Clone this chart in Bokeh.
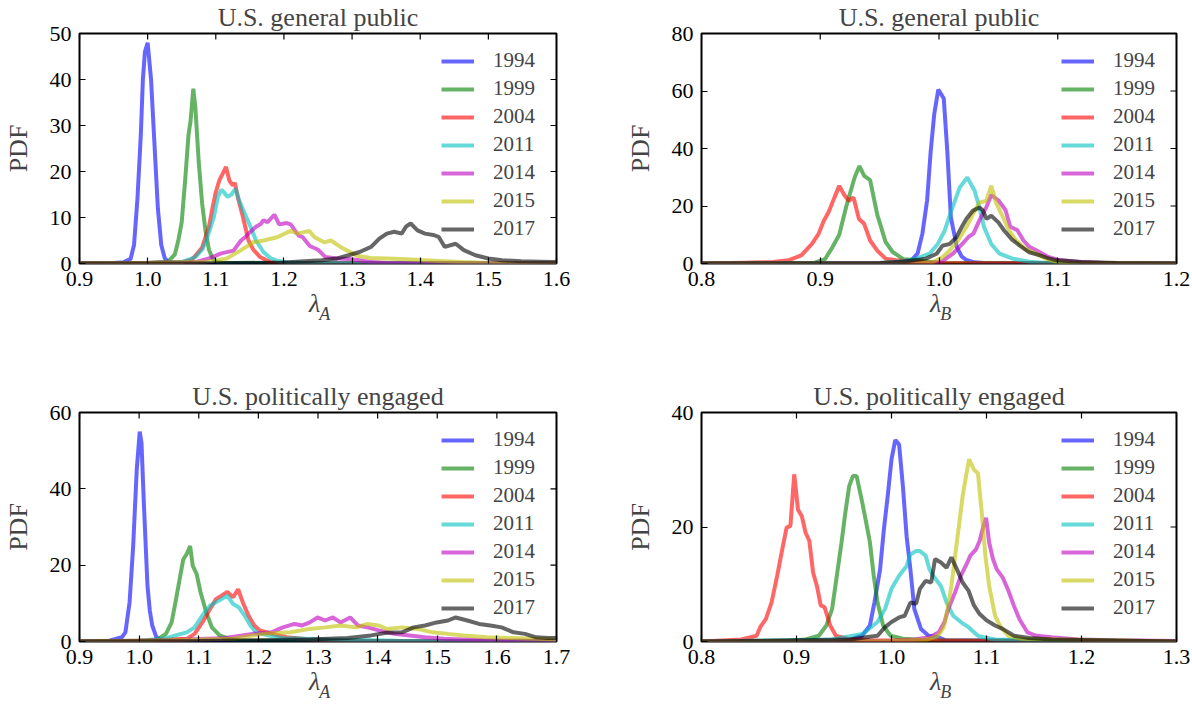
from bokeh.plotting import figure
from bokeh.models import (Range1d, FixedTicker, PrintfTickFormatter,
                          Legend, LegendItem, LinearAxis)
from bokeh.layouts import row, column
from bokeh.embed import file_html
from bokeh.resources import INLINE

YEARS = ["1994", "1999", "2004", "2011", "2014", "2015", "2017"]
COLORS = ["#0000ff", "#008000", "#ff0000", "#00bfbf", "#bf00bf", "#bfbf00", "#000000"]

# ---------------- U.S. general public, lambda_A ----------------
gpA_x_1994 = [0.90, 0.95, 0.965, 0.975, 0.98, 0.985, 0.99, 0.993, 0.996, 1.000, 1.005, 1.010, 1.015, 1.020, 1.025, 1.030, 1.04, 1.60]
gpA_y_1994 = [0.0, 0.1, 0.3, 1.0, 4.0, 14.0, 28.0, 40.0, 46.0, 48.0, 40.0, 26.0, 12.0, 4.0, 1.2, 0.3, 0.1, 0.0]
gpA_x_1999 = [0.90, 1.00, 1.03, 1.04, 1.045, 1.05, 1.055, 1.06, 1.063, 1.067, 1.07, 1.075, 1.08, 1.085, 1.09, 1.095, 1.10, 1.11, 1.60]
gpA_y_1999 = [0.0, 0.1, 0.4, 2.0, 5.0, 9.0, 18.0, 28.0, 31.0, 38.0, 34.0, 22.0, 13.0, 7.0, 3.0, 1.2, 0.4, 0.1, 0.0]
gpA_x_2004 = [0.90, 1.00, 1.05, 1.065, 1.08, 1.09, 1.095, 1.10, 1.105, 1.11, 1.115, 1.12, 1.125, 1.128, 1.133, 1.14, 1.148, 1.155, 1.165, 1.18, 1.19, 1.60]
gpA_y_2004 = [0.0, 0.1, 0.3, 0.8, 3.5, 8.0, 12.0, 15.5, 18.0, 19.5, 21.0, 18.0, 17.0, 17.5, 14.0, 10.0, 5.0, 3.0, 1.4, 0.3, 0.1, 0.0]
gpA_x_2011 = [0.90, 1.00, 1.05, 1.07, 1.08, 1.086, 1.097, 1.103, 1.108, 1.112, 1.117, 1.123, 1.129, 1.134, 1.142, 1.151, 1.159, 1.17, 1.18, 1.19, 1.205, 1.23, 1.60]
gpA_y_2011 = [0.0, 0.1, 0.3, 1.4, 3.0, 5.0, 10.0, 14.5, 16.0, 15.5, 14.5, 15.0, 16.3, 13.8, 11.0, 8.0, 5.0, 2.5, 1.2, 0.6, 0.2, 0.1, 0.0]
gpA_x_2014 = [0.90, 1.00, 1.06, 1.07, 1.09, 1.10, 1.108, 1.126, 1.137, 1.143, 1.148, 1.159, 1.166, 1.17, 1.176, 1.186, 1.193, 1.204, 1.21, 1.216, 1.222, 1.227, 1.238, 1.25, 1.261, 1.278, 1.295, 1.311, 1.328, 1.35, 1.60]
gpA_y_2014 = [0.0, 0.1, 0.2, 0.3, 1.1, 1.7, 2.2, 2.8, 5.0, 5.7, 6.5, 8.0, 8.6, 9.4, 9.0, 10.6, 8.5, 8.8, 8.5, 7.2, 6.0, 5.8, 3.8, 3.0, 1.4, 1.1, 1.0, 0.7, 0.3, 0.1, 0.0]
gpA_x_2015 = [0.90, 1.00, 1.08, 1.10, 1.116, 1.136, 1.155, 1.17, 1.19, 1.21, 1.22, 1.237, 1.245, 1.259, 1.269, 1.283, 1.293, 1.307, 1.327, 1.35, 1.38, 1.42, 1.46, 1.50, 1.60]
gpA_y_2015 = [0.0, 0.1, 0.3, 0.6, 1.1, 2.8, 4.6, 5.0, 5.7, 7.1, 6.5, 7.1, 5.7, 4.6, 5.0, 3.6, 2.8, 1.7, 1.2, 1.1, 0.9, 0.6, 0.3, 0.1, 0.0]
gpA_x_2017 = [0.90, 1.10, 1.20, 1.255, 1.278, 1.295, 1.311, 1.328, 1.34, 1.351, 1.362, 1.373, 1.379, 1.386, 1.396, 1.407, 1.419, 1.427, 1.436, 1.452, 1.464, 1.481, 1.50, 1.52, 1.548, 1.576, 1.60]
gpA_y_2017 = [0.0, 0.05, 0.2, 0.7, 1.1, 1.8, 2.5, 3.6, 5.4, 6.5, 6.9, 6.5, 8.0, 8.7, 7.2, 6.5, 6.2, 5.8, 3.6, 4.3, 2.9, 1.8, 1.1, 0.7, 0.5, 0.4, 0.3]

# ---------------- U.S. general public, lambda_B ----------------
gpB_x_1994 = [0.80, 0.95, 0.96, 0.977, 0.982, 0.986, 0.99, 0.993, 0.996, 0.9994, 1.004, 1.007, 1.01, 1.015, 1.019, 1.023, 1.03, 1.04, 1.20]
gpB_y_1994 = [0.0, 0.1, 0.2, 1.2, 3.5, 10.4, 22.0, 39.0, 52.0, 60.5, 57.4, 39.0, 16.0, 5.8, 2.5, 1.2, 0.4, 0.1, 0.0]
gpB_x_1999 = [0.80, 0.88, 0.895, 0.904, 0.91, 0.916, 0.922, 0.929, 0.933, 0.937, 0.942, 0.948, 0.955, 0.961, 0.97, 0.98, 0.99, 1.00, 1.20]
gpB_y_1999 = [0.0, 0.1, 0.2, 1.5, 5.5, 10.0, 20.0, 30.0, 33.9, 30.5, 29.0, 17.0, 7.5, 4.0, 1.5, 1.2, 0.7, 0.2, 0.0]
gpB_x_2004 = [0.80, 0.835, 0.86, 0.873, 0.884, 0.893, 0.8986, 0.903, 0.907, 0.912, 0.916, 0.92, 0.924, 0.928, 0.9326, 0.937, 0.942, 0.948, 0.955, 0.964, 0.978, 0.99, 1.00, 1.20]
gpB_y_2004 = [0.0, 0.3, 0.5, 1.1, 2.8, 6.8, 10.3, 14.9, 17.8, 23.0, 27.0, 24.0, 21.8, 23.0, 15.5, 13.8, 8.0, 4.5, 1.7, 1.1, 0.7, 0.3, 0.1, 0.0]
gpB_x_2011 = [0.80, 0.95, 0.97, 0.981, 0.992, 0.999, 1.0048, 1.0104, 1.0174, 1.0238, 1.03, 1.034, 1.038, 1.044, 1.051, 1.062, 1.076, 1.09, 1.20]
gpB_y_2011 = [0.0, 0.2, 0.8, 1.7, 3.4, 6.8, 11.4, 18.4, 26.4, 29.9, 25.3, 19.5, 12.6, 6.8, 3.4, 1.7, 0.6, 0.2, 0.0]
gpB_x_2014 = [0.80, 0.91, 0.99, 1.002, 1.012, 1.02, 1.025, 1.029, 1.034, 1.04, 1.044, 1.05, 1.056, 1.06, 1.066, 1.071, 1.076, 1.082, 1.092, 1.101, 1.117, 1.14, 1.20]
gpB_y_2014 = [0.0, 0.05, 0.2, 0.6, 3.5, 7.0, 9.3, 10.4, 15.0, 19.7, 23.8, 22.0, 18.6, 12.8, 11.6, 8.1, 5.8, 4.6, 2.3, 1.2, 0.6, 0.2, 0.0]
gpB_x_2015 = [0.80, 0.98, 0.995, 1.003, 1.009, 1.016, 1.023, 1.0286, 1.034, 1.0398, 1.044, 1.048, 1.054, 1.059, 1.065, 1.073, 1.082, 1.09, 1.099, 1.11, 1.20]
gpB_y_2015 = [0.0, 0.1, 0.5, 2.2, 4.5, 8.0, 12.6, 17.2, 21.2, 21.8, 27.0, 21.2, 16.0, 11.4, 8.0, 5.0, 3.4, 1.7, 0.6, 0.2, 0.0]
gpB_x_2017 = [0.80, 0.95, 0.97, 0.989, 0.998, 1.003, 1.009, 1.0146, 1.019, 1.023, 1.0286, 1.034, 1.037, 1.04, 1.044, 1.05, 1.055, 1.061, 1.068, 1.076, 1.085, 1.093, 1.10, 1.12, 1.15, 1.20]
gpB_y_2017 = [0.0, 0.2, 0.6, 1.7, 3.4, 6.2, 6.8, 9.1, 12.6, 15.5, 18.4, 19.5, 18.4, 15.5, 16.6, 14.3, 11.4, 8.5, 6.2, 3.9, 2.8, 1.7, 1.1, 0.5, 0.2, 0.0]

# ---------------- U.S. politically engaged, lambda_A ----------------
peA_x_1994 = [0.90, 0.95, 0.971, 0.977, 0.984, 0.99, 0.996, 1.001, 1.004, 1.008, 1.014, 1.018, 1.022, 1.029, 1.038, 1.70]
peA_y_1994 = [0.0, 0.2, 1.1, 2.4, 10.3, 25.0, 45.0, 55.0, 52.0, 36.0, 14.6, 8.0, 4.2, 1.1, 0.2, 0.0]
peA_x_1999 = [0.90, 1.02, 1.032, 1.045, 1.0545, 1.061, 1.067, 1.074, 1.08, 1.0855, 1.09, 1.0964, 1.103, 1.1125, 1.122, 1.135, 1.151, 1.17, 1.70]
peA_y_1999 = [0.0, 0.2, 0.7, 2.0, 5.0, 10.3, 15.5, 21.5, 23.0, 25.0, 19.8, 17.7, 12.9, 7.7, 3.7, 1.6, 0.7, 0.2, 0.0]
peA_x_2004 = [0.90, 1.00, 1.08, 1.093, 1.106, 1.119, 1.1286, 1.1382, 1.148, 1.1576, 1.166, 1.1737, 1.1834, 1.193, 1.2027, 1.222, 1.2477, 1.286, 1.35, 1.70]
peA_y_2004 = [0.0, 0.2, 0.7, 2.0, 5.0, 8.5, 11.1, 12.0, 13.0, 11.6, 13.7, 10.3, 6.8, 4.2, 2.9, 2.0, 1.1, 0.5, 0.2, 0.0]
peA_x_2011 = [0.90, 1.00, 1.0417, 1.061, 1.08, 1.093, 1.106, 1.119, 1.1286, 1.138, 1.148, 1.1576, 1.167, 1.177, 1.1866, 1.196, 1.2155, 1.241, 1.318, 1.434, 1.70]
peA_y_2011 = [0.0, 0.2, 0.7, 1.6, 2.4, 3.7, 6.8, 9.4, 10.3, 11.1, 12.0, 9.8, 9.0, 6.8, 4.2, 2.4, 1.6, 0.9, 0.5, 0.2, 0.0]
peA_x_2014 = [0.90, 1.05, 1.1447, 1.19, 1.222, 1.241, 1.2606, 1.2735, 1.2863, 1.2992, 1.312, 1.325, 1.3378, 1.3539, 1.3668, 1.383, 1.402, 1.428, 1.4537, 1.4795, 1.5117, 1.576, 1.70]
peA_y_2014 = [0.0, 0.3, 0.9, 2.0, 2.4, 3.7, 4.6, 4.2, 5.0, 6.3, 5.5, 6.3, 5.0, 6.3, 4.2, 3.7, 2.9, 2.0, 1.6, 1.1, 0.7, 0.3, 0.1]
peA_x_2015 = [0.90, 1.05, 1.1576, 1.2085, 1.254, 1.2863, 1.312, 1.3378, 1.3636, 1.383, 1.402, 1.415, 1.441, 1.4667, 1.4924, 1.518, 1.5439, 1.583, 1.628, 1.70]
peA_y_2015 = [0.0, 0.3, 0.7, 2.0, 2.4, 3.3, 3.7, 4.2, 3.7, 4.6, 4.2, 3.3, 3.7, 3.3, 2.4, 2.0, 1.6, 1.1, 0.9, 0.5]
peA_x_2017 = [0.90, 1.10, 1.2863, 1.35, 1.389, 1.415, 1.441, 1.4603, 1.4795, 1.499, 1.518, 1.531, 1.5504, 1.57, 1.589, 1.608, 1.628, 1.647, 1.666, 1.686, 1.70]
peA_y_2017 = [0.0, 0.1, 0.5, 0.9, 1.6, 2.3, 2.4, 3.7, 4.2, 5.0, 5.5, 6.3, 5.5, 4.6, 4.2, 3.7, 2.4, 2.0, 1.1, 0.9, 0.9]

# ---------------- U.S. politically engaged, lambda_B ----------------
peB_x_1994 = [0.80, 0.94, 0.957, 0.969, 0.9773, 0.982, 0.988, 0.992, 0.996, 1.0, 1.004, 1.008, 1.012, 1.0159, 1.0199, 1.024, 1.031, 1.039, 1.049, 1.057, 1.30]
peB_y_1994 = [0.0, 0.1, 0.35, 1.0, 2.8, 6.8, 12.6, 19.6, 25.4, 31.8, 35.2, 34.4, 27.1, 18.4, 12.6, 5.7, 2.2, 1.0, 0.75, 0.2, 0.0]
peB_x_1999 = [0.80, 0.89, 0.9096, 0.9235, 0.9315, 0.9375, 0.9434, 0.9474, 0.9514, 0.9554, 0.9594, 0.9633, 0.9693, 0.9733, 0.9773, 0.9813, 0.9853, 0.9912, 0.999, 1.012, 1.037, 1.30]
peB_y_1999 = [0.0, 0.1, 0.35, 1.0, 2.8, 5.7, 12.6, 17.3, 22.5, 27.1, 28.9, 28.9, 24.2, 20.8, 17.3, 11.5, 6.8, 2.8, 1.0, 0.5, 0.2, 0.0]
peB_x_2004 = [0.80, 0.8418, 0.8518, 0.858, 0.8618, 0.8677, 0.8737, 0.8797, 0.8857, 0.8896, 0.8936, 0.8976, 0.9016, 0.9056, 0.9096, 0.9135, 0.9175, 0.9215, 0.9255, 0.9295, 0.9355, 0.9414, 0.9534, 0.977, 1.30]
peB_y_2004 = [0.0, 0.35, 0.75, 1.0, 2.5, 3.9, 6.8, 11.5, 16.7, 19.9, 20.2, 29.2, 23.0, 21.9, 19.0, 17.6, 12.0, 9.7, 6.3, 6.0, 2.8, 1.0, 0.5, 0.2, 0.0]
peB_x_2011 = [0.80, 0.9375, 0.9693, 0.9853, 0.9932, 1.0, 1.008, 1.016, 1.0199, 1.0259, 1.0299, 1.0359, 1.04, 1.0438, 1.052, 1.058, 1.065, 1.073, 1.081, 1.091, 1.097, 1.109, 1.30]
peB_y_2011 = [0.0, 0.35, 1.3, 3.4, 5.7, 9.2, 11.5, 13.2, 15.2, 15.8, 15.8, 15.0, 12.6, 11.5, 9.7, 6.8, 4.5, 3.4, 2.5, 1.0, 0.75, 0.35, 0.0]
peB_x_2014 = [0.80, 1.0, 1.024, 1.04, 1.0498, 1.0558, 1.0598, 1.067, 1.073, 1.079, 1.083, 1.089, 1.0928, 1.0968, 1.0996, 1.1028, 1.1068, 1.1108, 1.117, 1.123, 1.1287, 1.1347, 1.143, 1.1526, 1.1685, 1.1964, 1.236, 1.30]
peB_y_2014 = [0.0, 0.1, 0.35, 0.75, 1.6, 3.4, 5.7, 8.6, 11.5, 13.5, 15.0, 16.1, 17.6, 20.2, 21.6, 17.3, 14.4, 12.6, 11.2, 8.9, 6.3, 3.9, 1.6, 1.0, 0.75, 0.35, 0.2, 0.1]
peB_x_2015 = [0.80, 1.0, 1.037, 1.049, 1.055, 1.059, 1.063, 1.067, 1.071, 1.0749, 1.079, 1.0817, 1.0868, 1.091, 1.095, 1.0988, 1.1028, 1.109, 1.115, 1.123, 1.137, 1.30]
peB_y_2015 = [0.0, 0.1, 0.35, 1.0, 2.5, 5.7, 9.7, 15.0, 20.2, 25.4, 29.4, 31.8, 30.0, 29.4, 22.5, 15.0, 9.7, 4.5, 2.5, 1.0, 0.5, 0.0]
peB_x_2017 = [0.80, 0.957, 0.9733, 0.9853, 0.9932, 1.0, 1.008, 1.0139, 1.0199, 1.0259, 1.0299, 1.0359, 1.0418, 1.0458, 1.052, 1.058, 1.063, 1.0689, 1.0749, 1.081, 1.0868, 1.0928, 1.1, 1.109, 1.117, 1.129, 1.145, 1.169, 1.30]
peB_y_2017 = [0.0, 0.35, 0.75, 1.0, 2.5, 3.4, 4.2, 4.5, 6.8, 6.6, 9.2, 10.6, 10.3, 14.4, 13.8, 12.9, 14.7, 12.6, 10.3, 8.9, 6.3, 4.8, 3.7, 2.8, 2.2, 1.0, 0.6, 0.35, 0.0]

TITLES = ["U.S. general public", "U.S. general public",
          "U.S. politically engaged", "U.S. politically engaged"]
SUBSCRIPTS = ["A", "B", "A", "B"]
X_RANGES = [(0.9, 1.6), (0.8, 1.2), (0.9, 1.7), (0.8, 1.3)]
X_TICKS = [[0.9, 1.0, 1.1, 1.2, 1.3, 1.4, 1.5, 1.6],
           [0.8, 0.9, 1.0, 1.1, 1.2],
           [0.9, 1.0, 1.1, 1.2, 1.3, 1.4, 1.5, 1.6, 1.7],
           [0.8, 0.9, 1.0, 1.1, 1.2, 1.3]]
Y_RANGES = [(0, 50), (0, 80), (0, 60), (0, 40)]
Y_TICKS = [[0, 10, 20, 30, 40, 50], [0, 20, 40, 60, 80], [0, 20, 40, 60], [0, 20, 40]]

SERIES = [
    [(gpA_x_1994, gpA_y_1994), (gpA_x_1999, gpA_y_1999), (gpA_x_2004, gpA_y_2004), (gpA_x_2011, gpA_y_2011),
     (gpA_x_2014, gpA_y_2014), (gpA_x_2015, gpA_y_2015), (gpA_x_2017, gpA_y_2017)],
    [(gpB_x_1994, gpB_y_1994), (gpB_x_1999, gpB_y_1999), (gpB_x_2004, gpB_y_2004), (gpB_x_2011, gpB_y_2011),
     (gpB_x_2014, gpB_y_2014), (gpB_x_2015, gpB_y_2015), (gpB_x_2017, gpB_y_2017)],
    [(peA_x_1994, peA_y_1994), (peA_x_1999, peA_y_1999), (peA_x_2004, peA_y_2004), (peA_x_2011, peA_y_2011),
     (peA_x_2014, peA_y_2014), (peA_x_2015, peA_y_2015), (peA_x_2017, peA_y_2017)],
    [(peB_x_1994, peB_y_1994), (peB_x_1999, peB_y_1999), (peB_x_2004, peB_y_2004), (peB_x_2011, peB_y_2011),
     (peB_x_2014, peB_y_2014), (peB_x_2015, peB_y_2015), (peB_x_2017, peB_y_2017)],
]

FONT = "Liberation Serif"
TICK_LEN = 6  # px, ticks drawn inside the frame
NBSP = "\u00a0"


def style_axis(ax, ticks):
    ax.ticker = FixedTicker(ticks=ticks)
    ax.major_tick_in = TICK_LEN
    ax.major_tick_out = 0
    ax.major_tick_line_width = 1.2
    ax.major_tick_line_color = "black"
    ax.minor_tick_line_color = None
    ax.axis_line_color = None
    ax.major_label_text_font = FONT
    ax.major_label_text_font_size = "22px"
    ax.major_label_text_color = "black"
    ax.major_label_standoff = 8


def make_fig(i, bl, br, bt, bb, fw, fh):
    xr, yr = X_RANGES[i], Y_RANGES[i]
    p = figure(frame_width=fw, frame_height=fh,
               x_range=Range1d(*xr), y_range=Range1d(*yr),
               output_backend="svg", toolbar_location=None,
               min_border_left=bl, min_border_right=br,
               min_border_top=bt, min_border_bottom=bb,
               title=TITLES[i], background_fill_color="white",
               border_fill_color="white")
    p.title.text_font = FONT
    p.title.text_font_size = "26px"
    p.title.text_font_style = "normal"
    p.title.align = "center"
    p.title.vertical_align = "top"
    p.title.standoff = 0
    p.xgrid.visible = False
    p.ygrid.visible = False
    p.outline_line_color = "black"
    p.outline_line_width = 2
    p.outline_line_alpha = 1.0

    style_axis(p.xaxis[0], X_TICKS[i])
    style_axis(p.yaxis[0], Y_TICKS[i])
    p.xaxis[0].formatter = PrintfTickFormatter(format="%.1f")
    p.yaxis[0].formatter = PrintfTickFormatter(format="%d")
    p.yaxis[0].axis_label = "PDF"
    p.yaxis[0].axis_label_text_font = FONT
    p.yaxis[0].axis_label_text_font_size = "26px"
    p.yaxis[0].axis_label_text_font_style = "normal"
    p.yaxis[0].axis_label_standoff = 14

    # x label: italic lambda, then its subscript on a second, tick-less axis
    xa = p.xaxis[0]
    xa.axis_label = "λ" + NBSP
    xa.axis_label_text_font = FONT
    xa.axis_label_text_font_style = "italic"
    xa.axis_label_text_font_size = "26px"
    xa.axis_label_standoff = 0
    sub_ax = LinearAxis(ticker=FixedTicker(ticks=[]),
                        axis_label=NBSP * 3 + SUBSCRIPTS[i],
                        axis_label_text_font=FONT,
                        axis_label_text_font_style="italic",
                        axis_label_text_font_size="18px",
                        axis_label_standoff=-17,
                        axis_line_color=None, major_tick_line_color=None,
                        minor_tick_line_color=None, major_tick_in=0,
                        major_tick_out=0, major_label_standoff=0)
    p.add_layout(sub_ax, "below")

    # inward ticks on the top and right edges of the frame
    dy = TICK_LEN * (yr[1] - yr[0]) / fh
    dx = TICK_LEN * (xr[1] - xr[0]) / fw
    xt, yt = X_TICKS[i], Y_TICKS[i]
    p.segment(x0=xt, y0=[yr[1]] * len(xt), x1=xt, y1=[yr[1] - dy] * len(xt),
              line_color="black", line_width=1.2)
    p.segment(x0=[xr[1]] * len(yt), y0=yt, x1=[xr[1] - dx] * len(yt), y1=yt,
              line_color="black", line_width=1.2)

    items = []
    for (xs, ys), year, color in zip(SERIES[i], YEARS, COLORS):
        r = p.line(xs, ys, line_color=color, line_alpha=0.6, line_width=4)
        items.append(LegendItem(label=year, renderers=[r]))
    legend = Legend(items=items, location="top_right",
                    border_line_color=None, background_fill_alpha=0.0,
                    label_text_font=FONT, label_text_font_size="21px",
                    glyph_width=33, glyph_height=20, label_height=20,
                    label_width=48, label_standoff=19, spacing=3,
                    padding=4, margin=15)
    p.add_layout(legend)
    return p


f1 = make_fig(0, 77, 66, 33, 117, 477, 230)
f2 = make_fig(1, 76, 21, 33, 117, 475, 230)
f3 = make_fig(2, 77, 66, 32, 66, 477, 229)
f4 = make_fig(3, 76, 21, 32, 66, 475, 229)

layout = column(row(f1, f2), row(f3, f4))

with open("out.html", "w") as fh:
    fh.write(file_html(layout, INLINE))
